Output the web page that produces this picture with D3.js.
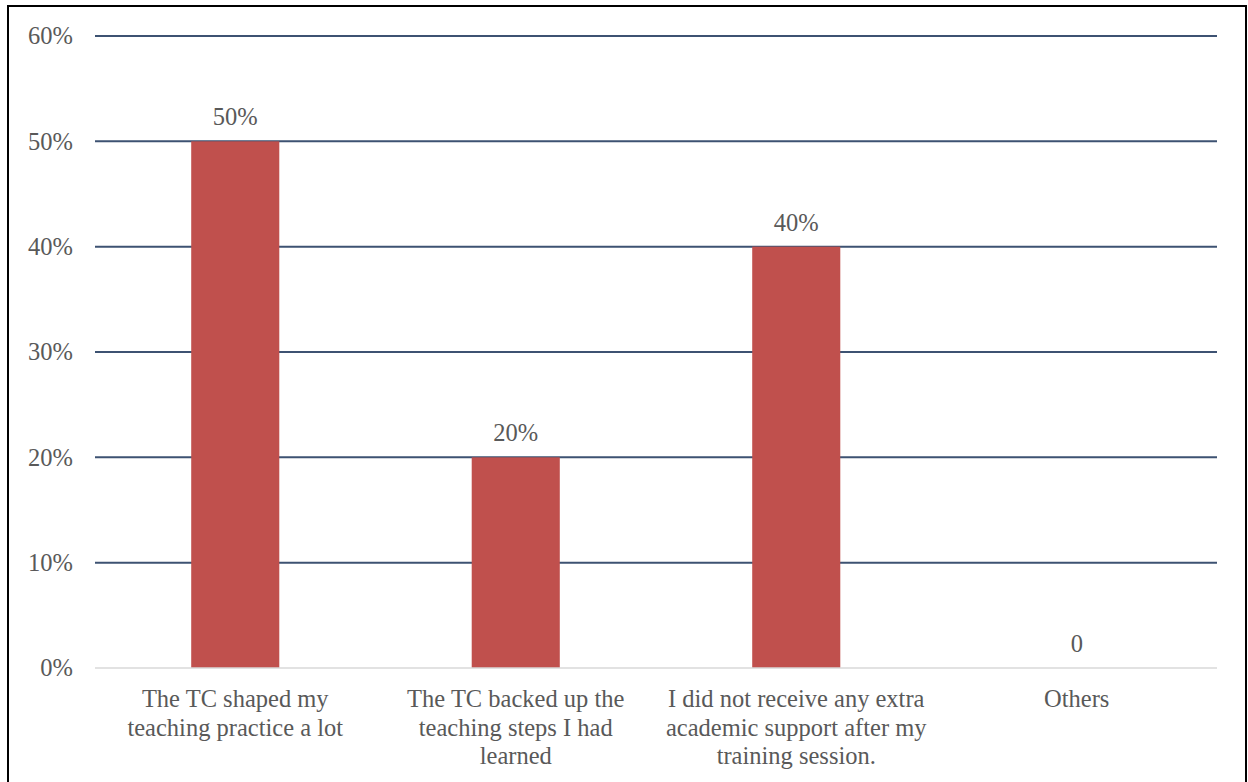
<!DOCTYPE html>
<html>
<head>
<meta charset="utf-8">
<script src="https://cdn.jsdelivr.net/npm/d3@7"></script>
<style>
  html, body { margin: 0; padding: 0; background: #fff; }
  svg { display: block; }
  text { font-family: "Liberation Serif", serif; fill: #595959; }
</style>
</head>
<body>
<svg id="chart" width="1248" height="782"></svg>
<script>
// Responses per category (share of respondents)
const categories = [
  "The TC shaped my teaching practice a lot",
  "The TC backed up the teaching steps I had learned",
  "I did not receive any extra academic support after my training session.",
  "Others"
];
const categoryLines = [
  ["The TC shaped my", "teaching practice a lot"],
  ["The TC backed up the", "teaching steps I had", "learned"],
  ["I did not receive any extra", "academic support after my", "training session."],
  ["Others"]
];
const values = [0.5, 0.2, 0.4, 0];
const valueLabels = ["50%", "20%", "40%", "0"];
const yTicks = [0, 0.1, 0.2, 0.3, 0.4, 0.5, 0.6];

const FONT = 24.5;
const svg = d3.select("#chart");
const W = 1248, H = 782;
const margin = { left: 95, right: 31, top: 36, bottom: 114 };

// outer frame
svg.append("rect")
  .attr("x", 8).attr("y", 6)
  .attr("width", 1238).attr("height", 800)
  .attr("fill", "none").attr("stroke", "#000").attr("stroke-width", 2);

const x = d3.scaleBand()
  .domain(categories)
  .range([margin.left, W - margin.right])
  .paddingInner(0.686).paddingOuter(0.343);

const y = d3.scaleLinear()
  .domain([0, 0.6])
  .range([H - margin.bottom, margin.top]);

// gridlines
svg.append("g").selectAll("line")
  .data(yTicks.filter(d => d > 0))
  .join("line")
  .attr("x1", margin.left).attr("x2", W - margin.right)
  .attr("y1", d => y(d)).attr("y2", d => y(d))
  .attr("stroke", "#3d5272").attr("stroke-width", 2);

// y axis labels
const yAxis = d3.axisLeft(y).tickValues(yTicks).tickFormat(d3.format(".0%")).tickSize(0).tickPadding(22);
const gy = svg.append("g").attr("transform", `translate(${margin.left},0)`).call(yAxis);
gy.select(".domain").remove();
gy.selectAll("text").attr("font-size", FONT).attr("font-family", "Liberation Serif").attr("fill", "#595959");

// bars
svg.append("g").selectAll("rect")
  .data(categories)
  .join("rect")
  .attr("x", d => x(d))
  .attr("width", x.bandwidth())
  .attr("y", (d, i) => y(values[i]))
  .attr("height", (d, i) => y(0) - y(values[i]))
  .attr("fill", "#c0504d");

// baseline
svg.append("line")
  .attr("x1", margin.left).attr("x2", W - margin.right)
  .attr("y1", y(0)).attr("y2", y(0))
  .attr("stroke", "#d9d9d9").attr("stroke-width", 1.5);

// value labels
svg.append("g").selectAll("text")
  .data(categories)
  .join("text")
  .attr("x", d => x(d) + x.bandwidth() / 2)
  .attr("y", (d, i) => y(values[i]) - 16)
  .attr("text-anchor", "middle")
  .attr("font-size", FONT)
  .text((d, i) => valueLabels[i]);

// category labels
const xl = svg.append("g").selectAll("text")
  .data(categories)
  .join("text")
  .attr("text-anchor", "middle")
  .attr("font-size", FONT)
  .attr("x", d => x(d) + x.bandwidth() / 2)
  .attr("y", y(0) + 39);
xl.selectAll("tspan")
  .data((d, i) => categoryLines[i])
  .join("tspan")
  .attr("x", function () { return d3.select(this.parentNode).attr("x"); })
  .attr("dy", (d, i) => i === 0 ? 0 : 28.5)
  .text(d => d);
</script>
</body>
</html>
